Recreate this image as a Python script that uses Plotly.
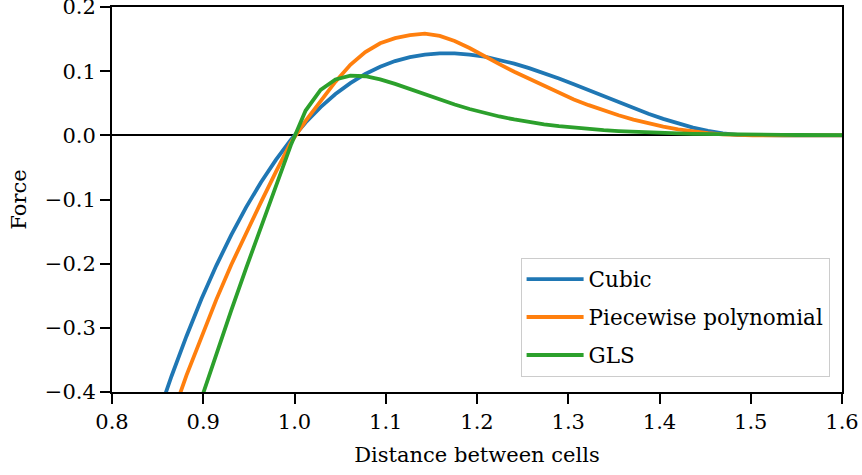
import plotly.graph_objects as go

distance = [0.8000, 0.8163, 0.8327, 0.8490, 0.8653, 0.8816, 0.8980, 0.9143, 0.9306, 0.9469,
            0.9633, 0.9796, 0.9959, 1.0122, 1.0286, 1.0449, 1.0612, 1.0776, 1.0939, 1.1102,
            1.1265, 1.1429, 1.1592, 1.1755, 1.1918, 1.2082, 1.2245, 1.2408, 1.2571, 1.2735,
            1.2898, 1.3061, 1.3224, 1.3388, 1.3551, 1.3714, 1.3878, 1.4041, 1.4204, 1.4367,
            1.4531, 1.4694, 1.4857, 1.5020, 1.5184, 1.5347, 1.5510, 1.5673, 1.5837, 1.6000]

cubic = [-0.677, -0.593, -0.515, -0.442, -0.375, -0.313, -0.255, -0.203, -0.1555, -0.1122,
         -0.0731, -0.0382, -0.0072, 0.0201, 0.0439, 0.0643, 0.0814, 0.0957, 0.1070, 0.1157,
         0.1219, 0.1259, 0.1278, 0.1277, 0.1259, 0.1225, 0.1177, 0.1118, 0.1048, 0.0970,
         0.0885, 0.0795, 0.0703, 0.0608, 0.0515, 0.0424, 0.0337, 0.0257, 0.0184, 0.0121,
         0.0069, 0.0030, 0.0007, 0.0, 0.0, 0.0, 0.0, 0.0, 0.0, 0.0]

piecewise = [-0.769, -0.676, -0.590, -0.512, -0.440, -0.374, -0.313, -0.256, -0.202, -0.152,
             -0.104, -0.057, -0.0114, 0.0226, 0.0531, 0.0836, 0.1100, 0.1296, 0.1435, 0.1515,
             0.1560, 0.1584, 0.1550, 0.1470, 0.1360, 0.1230, 0.1110, 0.0990, 0.0880, 0.0764,
             0.0658, 0.0560, 0.0470, 0.0387, 0.0313, 0.0246, 0.0188, 0.0137, 0.0094, 0.0060,
             0.0033, 0.0014, 0.0003, 0.0, 0.0, 0.0, 0.0, 0.0, 0.0, 0.0]

gls = [-0.848, -0.771, -0.696, -0.622, -0.550, -0.479, -0.4088, -0.3405, -0.2733, -0.2073,
       -0.1421, -0.0783, -0.0156, 0.0386, 0.0708, 0.0870, 0.0929, 0.0921, 0.0872, 0.0802,
       0.0721, 0.0636, 0.0555, 0.0480, 0.0410, 0.0348, 0.0294, 0.0247, 0.0207, 0.0172,
       0.0142, 0.0118, 0.0097, 0.0080, 0.0066, 0.0054, 0.0044, 0.0036, 0.0029, 0.0024,
       0.0019, 0.0016, 0.0013, 0.0010, 0.0008, 0.0007, 0.0005, 0.0004, 0.0003, 0.0003]

series_names = ["Cubic", "Piecewise polynomial", "GLS"]
series_colors = ["#1f77b4", "#ff7f0e", "#2ca02c"]
x_ticks = [0.8, 0.9, 1.0, 1.1, 1.2, 1.3, 1.4, 1.5, 1.6]
y_ticks = [-0.4, -0.3, -0.2, -0.1, 0.0, 0.1, 0.2]

FONT = "'DejaVu Serif', serif"
FS = 21

fig = go.Figure()
for name, ys, col in zip(series_names, [cubic, piecewise, gls], series_colors):
    fig.add_trace(go.Scatter(x=distance, y=ys, mode="lines", name=name,
                             legendgroup=name,
                             line=dict(color=col, width=3.8)))

axis_common = dict(showgrid=False, showline=True, linecolor="black", linewidth=2,
                   mirror=True, ticks="outside", ticklen=10, tickwidth=2, tickcolor="black",
                   ticklabeloverflow="allow",
                   tickfont=dict(family=FONT, size=FS, color="black"))

fig.update_xaxes(range=[0.8, 1.6], tickvals=x_ticks, tickformat=".1f", zeroline=False,
                 title=dict(text="Distance between cells",
                            font=dict(family=FONT, size=FS, color="black"), standoff=14),
                 **axis_common)
fig.update_yaxes(range=[-0.4, 0.2], tickvals=y_ticks, tickformat=".1f",
                 zeroline=True, zerolinecolor="black", zerolinewidth=2,
                 title=dict(text="Force", font=dict(family=FONT, size=FS, color="black"),
                            standoff=12),
                 **axis_common)

fig.update_layout(
    width=862, height=475,
    margin=dict(l=112, r=20, t=7, b=83, autoexpand=False),
    plot_bgcolor="white", paper_bgcolor="white",
    font=dict(family=FONT, color="black"),
    legend=dict(x=0.983, y=0.04, xanchor="right", yanchor="bottom",
                bgcolor="white", bordercolor="#cccccc", borderwidth=1,
                font=dict(family=FONT, size=21.5, color="black"),
                itemwidth=57, tracegroupgap=7),
)

fig.write_html("out.html")
